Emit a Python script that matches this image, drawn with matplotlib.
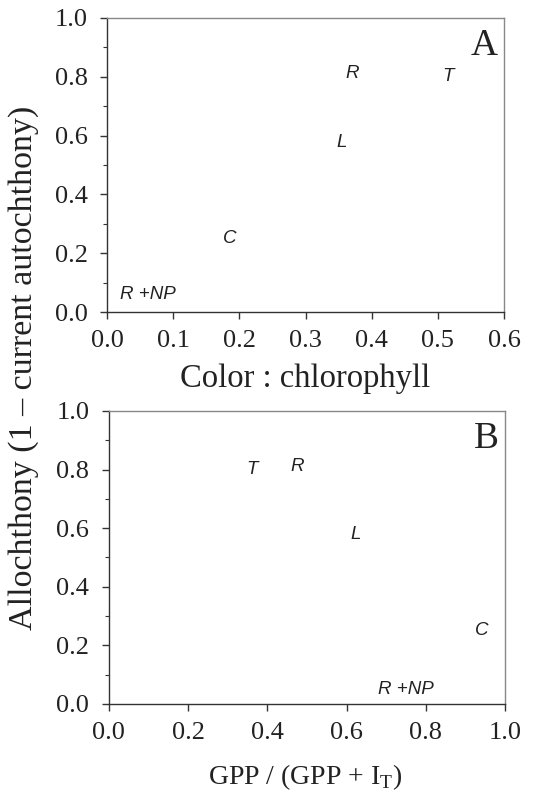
import matplotlib
matplotlib.use("Agg")
import matplotlib.pyplot as plt
from matplotlib.ticker import MultipleLocator

# Panel A data: Color : chlorophyll vs allochthony
labels_a = ["R", "T", "L", "C", "R +NP"]
x_a = [0.370, 0.515, 0.355, 0.186, 0.061]
y_a = [0.81, 0.80, 0.578, 0.25, 0.058]

# Panel B data: GPP/(GPP+IT) vs allochthony
labels_b = ["T", "R", "L", "C", "R +NP"]
x_b = [0.361, 0.475, 0.624, 0.942, 0.75]
y_b = [0.80, 0.81, 0.577, 0.25, 0.048]

xticks_a = [0.0, 0.1, 0.2, 0.3, 0.4, 0.5, 0.6]
xticks_b = [0.0, 0.2, 0.4, 0.6, 0.8, 1.0]
yticks = [0.0, 0.2, 0.4, 0.6, 0.8, 1.0]

plt.rcParams["font.family"] = ["Liberation Serif", "DejaVu Serif"]
plt.rcParams["mathtext.fontset"] = "custom"
plt.rcParams["mathtext.rm"] = "Liberation Serif"
sans = ["Liberation Sans", "DejaVu Sans"]

fig = plt.figure(figsize=(5.52, 7.95), dpi=100)
axA = fig.add_axes([0.194, 0.6075, 0.719, 0.370])
axB = fig.add_axes([0.197, 0.1145, 0.718, 0.3686])

def style(ax, xticks, xmax, letter):
    ax.set_xlim(0, xmax)
    ax.set_ylim(0, 1.0)
    ax.set_xticks(xticks)
    ax.set_yticks(yticks)
    ax.set_xticklabels([f"{t:.1f}" for t in xticks])
    ax.set_yticklabels([f"{t:.1f}" for t in yticks])
    ax.yaxis.set_minor_locator(MultipleLocator(0.1))
    ax.tick_params(axis="both", which="major", direction="out", length=5,
                   width=1.0, color="#333333", labelsize=19,
                   labelcolor="#222222")
    ax.tick_params(axis="x", which="major", pad=8)
    ax.tick_params(axis="y", which="major", pad=9)
    ax.tick_params(axis="y", which="minor", direction="out", length=3,
                   width=0.8, color="#333333")
    for s in ["left", "bottom"]:
        ax.spines[s].set_color("#333333")
        ax.spines[s].set_linewidth(1.0)
    for s in ["top", "right"]:
        ax.spines[s].set_color("#888888")
        ax.spines[s].set_linewidth(1.0)
    ax.text(0.985, 0.965, letter, transform=ax.transAxes, ha="right", va="top",
            fontsize=27, color="#222222")

style(axA, xticks_a, 0.6, "A")
style(axB, xticks_b, 1.0, "B")

for lab, x, y in zip(labels_a, x_a, y_a):
    axA.text(x, y, lab, ha="center", va="center", family=sans,
             style="italic", fontsize=13.5, color="#222222")
for lab, x, y in zip(labels_b, x_b, y_b):
    axB.text(x, y, lab, ha="center", va="center", family=sans,
             style="italic", fontsize=13.5, color="#222222")

fig.text(0.553, 0.524, "Color : chlorophyll", ha="center", va="center",
         fontsize=23.5, color="#222222")
fig.text(0.553, 0.022, r"GPP / (GPP + I$_\mathregular{T}$)", ha="center",
         va="center", fontsize=20, color="#222222")
fig.text(0.042, 0.537, "Allochthony (1 – current autochthony)", rotation=90,
         ha="center", va="center", fontsize=24.5, color="#222222")

fig.savefig("out.png", dpi=100)
